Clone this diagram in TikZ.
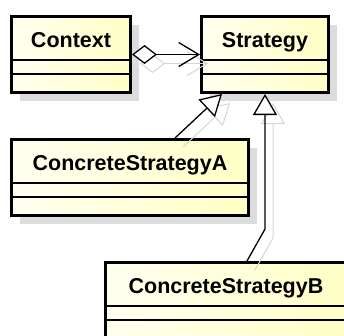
\documentclass[tikz,border=0pt]{standalone}
\usepackage{fontspec}
\setsansfont{Liberation Sans}
\usepackage{tikz}
\usetikzlibrary{arrows.meta,positioning,calc,shadows}
\definecolor{classleft}{HTML}{FFFFF0}
\definecolor{classright}{HTML}{FFFFC6}
\definecolor{boxshade}{HTML}{DCDCDC}
\definecolor{linkshade}{HTML}{D6D6D6}
\tikzset{
  classbox/.style={draw=black,line width=3pt,inner sep=0pt,left color=classleft,right color=classright,
    drop shadow={shadow xshift=8pt,shadow yshift=-8pt,fill=boxshade,opacity=1}},
  classname/.style={anchor=base,font=\sffamily\bfseries\fontsize{21.5}{24}\selectfont},
  compart/.style={line width=1.3pt},
  link/.style={line width=1.3pt},
  agg/.style={{Diamond[fill=white,length=25pt,width=19pt]}-{Straight Barb[length=20pt,width=24pt]}},
  gen/.style={-{Triangle[fill=white,length=21pt,width=24pt]}},
  linkshadow/.style={draw=linkshade,line width=1pt}
}

\begin{document}
\begin{tikzpicture}[x=1pt,y=-1pt,font=\sffamily]
\useasboundingbox (0,0) rectangle (344,335);
\clip (0,0) rectangle (344,335);
% classes
\node[classbox,minimum width=119pt,minimum height=76pt] (context) at (71,54.5) {};
\node[classbox,minimum width=127pt,minimum height=76pt] (strategy) at (265,54.5) {};
\node[classbox,minimum width=237pt,minimum height=76pt] (csa) at (130,177.5) {};
\node[classbox,minimum width=241pt,minimum height=76pt] (csb) at (226,300.5) {};
\foreach \c/\t in {context/Context,strategy/Strategy,csa/ConcreteStrategyA,csb/ConcreteStrategyB}{
  \node[classname] (\c-name) at ($(\c.north)+(0,32)$) {\t};
  \draw[compart] ($(\c.north west)+(0,45)$) -- ($(\c.north east)+(0,45)$);
  \draw[compart] ($(\c.north west)+(0,59)$) -- ($(\c.north east)+(0,59)$);
}
% link ends
\coordinate (aFoot) at ($(csa.north west)+(165,0)$);
\coordinate (aHead) at ($(strategy.south west)+(22,0)$);
\coordinate (bFoot) at ($(csb.north west)+(143,0)$);
\coordinate (bHead) at (strategy.south);
\coordinate (bBend) at ($(bHead)+(0,135)$);
% link shadows
\begin{scope}[transform canvas={shift={(8,9)}}]
\draw[linkshadow,agg] (context.east) -- (strategy.west);
\draw[linkshadow,gen] (aFoot) -- (aHead);
\draw[linkshadow,gen] (bFoot) -- (bBend) -- (bHead);
\end{scope}
% links
\draw[link,agg] (context.east) -- (strategy.west);
\draw[link,gen] (aFoot) -- (aHead);
\draw[link,gen] (bFoot) -- (bBend) -- (bHead);
\end{tikzpicture}
\end{document}
